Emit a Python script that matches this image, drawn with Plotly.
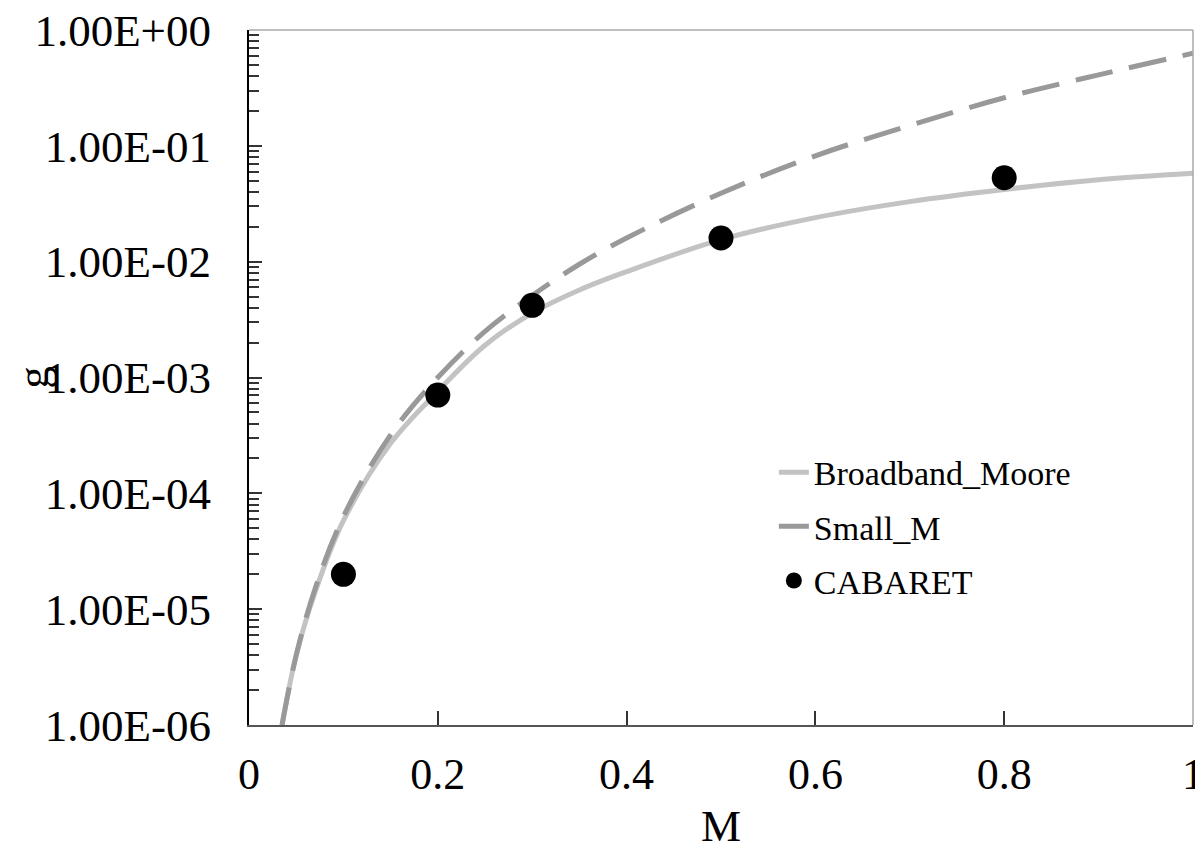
import plotly.graph_objects as go

# Data
m_curve = [0.035, 0.05, 0.07, 0.1, 0.15, 0.2, 0.25, 0.3, 0.35, 0.4, 0.5, 0.6, 0.7, 0.8, 0.9, 1.0]
broadband_moore = [1.0e-6, 4.0e-6, 1.4e-5, 5.8e-5, 2.7e-4, 7.6e-4, 1.9e-3, 3.6e-3, 5.7e-3, 8.2e-3,
                   1.55e-2, 2.4e-2, 3.3e-2, 4.2e-2, 5.1e-2, 5.8e-2]
small_m = [1.0e-6, 4.0e-6, 1.5e-5, 6.3e-5, 3.2e-4, 1.0e-3, 2.5e-3, 5.1e-3, 9.5e-3, 1.6e-2,
           3.9e-2, 8.2e-2, 0.15, 0.26, 0.41, 0.63]
m_cabaret = [0.1, 0.2, 0.3, 0.5, 0.8]
g_cabaret = [2.0e-5, 7.05e-4, 4.2e-3, 1.6e-2, 5.3e-2]

y_tickvals = [1e-6, 1e-5, 1e-4, 1e-3, 1e-2, 1e-1, 1e0]
y_ticktext = ["1.00E-06", "1.00E-05", "1.00E-04", "1.00E-03", "1.00E-02", "1.00E-01", "1.00E+00"]
x_tickvals = [0, 0.2, 0.4, 0.6, 0.8, 1.0]
x_ticktext = ["0", "0.2", "0.4", "0.6", "0.8", "1"]

FONT = "Liberation Serif, Times New Roman, serif"

fig = go.Figure()
fig.add_trace(go.Scatter(
    x=m_curve, y=broadband_moore, mode="lines", name="Broadband_Moore",
    line=dict(color="#c3c3c3", width=5, shape="spline", smoothing=1.0),
    legendgroup="a"))
fig.add_trace(go.Scatter(
    x=m_curve, y=small_m, mode="lines", name="Small_M",
    line=dict(color="#999999", width=5, dash="38px,17px", shape="spline", smoothing=1.0),
    legendgroup="b"))
fig.add_trace(go.Scatter(
    x=m_cabaret, y=g_cabaret, mode="markers", name="CABARET",
    marker=dict(color="black", size=25),
    legendgroup="c"))

fig.update_layout(
    width=1195, height=843,
    margin=dict(l=241, r=10, t=22, b=126),
    paper_bgcolor="white", plot_bgcolor="white",
    font=dict(family=FONT, size=44, color="black"),
    showlegend=True,
    legend=dict(x=0.556, y=0.405, xanchor="left", yanchor="top",
                bgcolor="rgba(0,0,0,0)", font=dict(size=34, family=FONT),
                traceorder="grouped", tracegroupgap=7),
    shapes=[
        dict(type="line", xref="paper", yref="paper", x0=0, x1=1, y0=1, y1=1,
             line=dict(color="#a8a8a8", width=1.5)),
        dict(type="line", xref="paper", yref="paper", x0=1, x1=1, y0=0, y1=1,
             line=dict(color="#a8a8a8", width=1.5)),
    ],
)

fig.update_xaxes(
    range=[0, 1], showgrid=False, zeroline=False, automargin=False,
    showline=True, linecolor="#555555", linewidth=2,
    ticks="inside", ticklen=14, tickwidth=1.5, tickcolor="#333333",
    tickvals=x_tickvals, ticktext=x_ticktext, ticklabeloverflow="allow",
    tickfont=dict(size=44, family=FONT), ticklabelstandoff=9,
    title=dict(text="M", font=dict(size=45, family=FONT), standoff=22),
)
fig.update_yaxes(
    type="log", range=[-6, 0], showgrid=False, zeroline=False, automargin=False,
    showline=True, linecolor="black", linewidth=2,
    ticks="inside", ticklen=13, tickwidth=1.5, tickcolor="#333333",
    tickvals=y_tickvals, ticktext=y_ticktext, ticklabeloverflow="allow",
    tickfont=dict(size=45, family=FONT), ticklabelstandoff=27,
    minor=dict(ticks="inside", ticklen=10, tickwidth=1.5, tickcolor="#333333", dtick="D1", showgrid=False),
    title=dict(text="g", font=dict(size=45, family=FONT), standoff=17),
)

fig.write_html("out.html")
